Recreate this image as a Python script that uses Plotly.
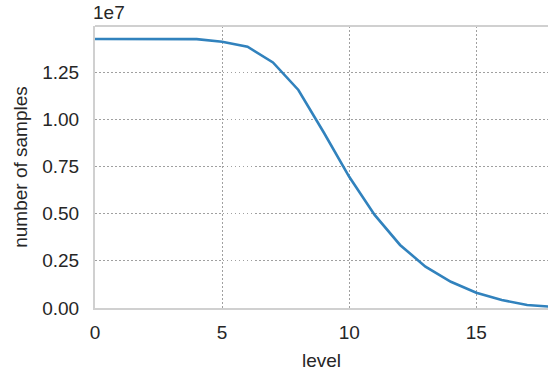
import plotly.graph_objects as go

levels = list(range(0, 19))
samples = [14250000, 14250000, 14250000, 14250000, 14245000, 14110000, 13840000,
           13010000, 11550000, 9300000, 6950000, 4930000, 3340000, 2190000,
           1390000, 810000, 420000, 160000, 60000]
ytick_vals = [0, 2500000, 5000000, 7500000, 10000000, 12500000]
ytick_text = ["0.00", "0.25", "0.50", "0.75", "1.00", "1.25"]
xtick_vals = [0, 5, 10, 15]

font_family = "Liberation Sans, Arial, sans-serif"
text_color = "#262626"
grid_dash = "1.5px,2.5px"

fig = go.Figure()
fig.add_trace(go.Scatter(x=levels, y=samples, mode="lines",
                         line=dict(color="#3182bd", width=2.6), showlegend=False))

fig.update_layout(
    width=548, height=375,
    margin=dict(l=95, r=0, t=26, b=67, autoexpand=False),
    paper_bgcolor="white", plot_bgcolor="white",
    font=dict(family=font_family, size=19, color=text_color),
    xaxis=dict(range=[0, 17.82], tickvals=xtick_vals, showgrid=True,
               gridcolor="#a0a0a0", griddash=grid_dash, gridwidth=1,
               showline=True, linecolor="#d0d0d0", linewidth=2, mirror=False,
               zeroline=False, ticks="", ticklabelstandoff=6, automargin=False,
               title=dict(text="level", standoff=12, font=dict(size=19))),
    yaxis=dict(range=[0, 14940000], tickvals=ytick_vals, ticktext=ytick_text,
               showgrid=True, gridcolor="#a0a0a0", griddash=grid_dash, gridwidth=1,
               showline=True, linecolor="#d0d0d0", linewidth=2,
               zeroline=False, ticks="", ticklabelstandoff=10, automargin=False,
               title=dict(text="number of samples", standoff=10, font=dict(size=19))),
    annotations=[dict(text="1e7", xref="paper", yref="paper", x=0, y=1,
                      xanchor="left", yanchor="bottom", showarrow=False,
                      xshift=-4, yshift=1, font=dict(size=19, color=text_color))],
)
fig.add_shape(type="line", xref="paper", yref="paper", x0=0, x1=1, y0=1, y1=1,
              line=dict(color="#d0d0d0", width=2))

fig.write_html("out.html", config={"displayModeBar": False},
               post_script="document.body.style.margin='0';document.body.style.padding='0';")
